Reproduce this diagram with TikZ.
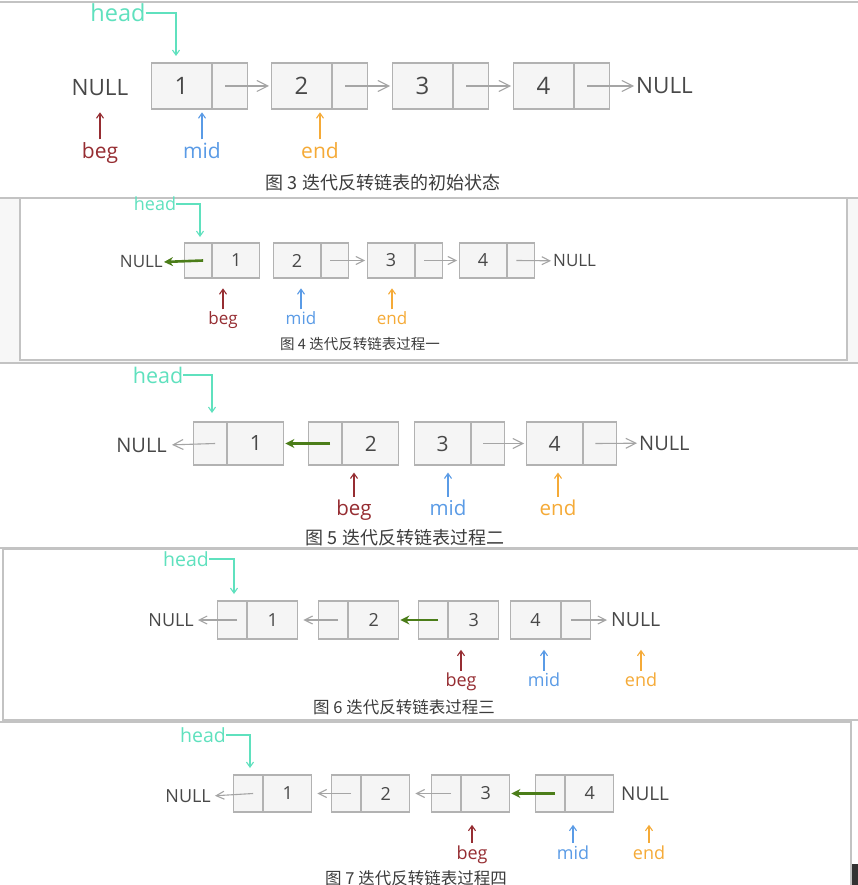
\documentclass[tikz,border=0pt]{standalone}
\usepackage{fontspec}
\setmainfont{Open Sans}
\newfontfamily\cjk{Noto Sans CJK SC}
\usetikzlibrary{arrows.meta,positioning}
\definecolor{boxfill}{RGB}{245,245,245}
\definecolor{boxline}{RGB}{178,178,178}
\definecolor{nxtgray}{RGB}{165,165,165}
\definecolor{txtgray}{RGB}{72,72,72}
\definecolor{captxt}{RGB}{60,60,60}
\definecolor{headc}{RGB}{95,225,190}
\definecolor{begc}{RGB}{150,45,50}
\definecolor{midc}{RGB}{90,155,230}
\definecolor{endc}{RGB}{245,170,55}
\definecolor{revc}{RGB}{75,125,25}
\definecolor{panelline}{RGB}{195,195,195}
\tikzset{
  cell/.style 2 args={draw=boxline, fill=boxfill, line width=1.2pt, inner sep=0pt,
    minimum width=#1, minimum height=#2, anchor=west},
  txt/.style={font=\fontsize{#1}{#1}\selectfont, text=txtgray, inner sep=0pt},
  lab/.style 2 args={font=\fontsize{#1}{#1}\selectfont, text=#2, inner sep=0pt,
    text height={0.76*#1pt}, text depth={0.24*#1pt}},
  cap/.style={font=\cjk\fontsize{#1}{#1}\selectfont, text=captxt, inner sep=0pt},
  nxt/.style={draw=nxtgray, line width=1.1pt, shorten >=2pt,
    -{Straight Barb[length=#1pt,width=#1pt]}},
  rev/.style={draw=revc, line width=2.6pt, shorten >=1pt, -{Stealth[length=9pt,width=9pt]}},
  tag/.style={draw=#1, line width=1.1pt, -{Straight Barb[length=5pt,width=7pt]}},
  panel/.style={fill=white, draw=panelline, line width=2pt}
}
\begin{document}
\begin{tikzpicture}[x=1pt,y=-1pt]
\useasboundingbox (0,0) rectangle (858,885);
\fill[white] (0,0) rectangle (858,885);
\fill[black!3] (0,198) rectangle (858,362);
\draw[panel] (-3,722) rectangle (851,890);
\fill[black!80] (852,864) rectangle (860,888);
\draw[panel] (3,549) rectangle (862,720);
\draw[panel] (-3,363) rectangle (862,548);
\draw[panel] (20,198) rectangle (847,360);
\draw[panel] (-3,2) rectangle (862,198);

% 图 3
\node[txt=23.5, text=headc] (h1) at (118,13) {head};
\node[txt=22.5] (z1) at (100,88) {NULL};
\foreach \i/\x in {1/151,2/271,3/392,4/513} {
  \node[cell={60pt}{46pt}, txt=24] (a\i) at (\x,86) {\i};
  \node[cell={35pt}{46pt}] (pa\i) at (a\i.east) {};
}
\node[txt=22.5, anchor=west] (y1) at (636,86) {NULL};
\draw[nxt=11] ([xshift=-5pt]pa1.center) -- (a2);
\draw[nxt=11] ([xshift=-5pt]pa2.center) -- (a3);
\draw[nxt=11] ([xshift=-5pt]pa3.center) -- (a4);
\draw[nxt=11] ([xshift=-5pt]pa4.center) -- (y1);
\coordinate (h1t) at (176,56);
\draw[tag=headc] (h1.east) -| (h1t);
\foreach \t/\c/\x in {beg/begc/100, mid/midc/202, end/endc/320} {
  \node[lab={21}{\c}] (\t1) at (\x,153) {\t};
  \draw[tag=\c] ([yshift=3pt]\t1.north) -- ++(0,-27);
}
\node[cap=18] (c1) at (383,183) {图 3 迭代反转链表的初始状态};

% 图 4
\node[txt=18, text=headc] (h2) at (155,204) {head};
\node[txt=17, anchor=east] (z2) at (163,262) {NULL};
\node[cell={27pt}{35pt}] (pb1) at (184,260.5) {};
\node[cell={47pt}{35pt}, txt=18] (b1) at (pb1.east) {1};
\foreach \i/\x in {2/273,3/367,4/459} {
  \node[cell={47pt}{35pt}, txt=18] (b\i) at (\x,260.5) {\i};
  \node[cell={27pt}{35pt}] (pb\i) at (b\i.east) {};
}
\node[txt=17, anchor=west] (y2) at (553,261) {NULL};
\draw[rev] ([xshift=5pt]pb1.center) -- (z2.east);
\draw[nxt=8] ([xshift=-5pt]pb2.center) -- (b3);
\draw[nxt=8] ([xshift=-5pt]pb3.center) -- (b4);
\draw[nxt=8] ([xshift=-5pt]pb4.center) -- (y2);
\coordinate (h2t) at (200,237);
\draw[tag=headc] (h2.east) -| (h2t);
\foreach \t/\c/\x in {beg/begc/223, mid/midc/301, end/endc/392} {
  \node[lab={17}{\c}] (\t2) at (\x,320) {\t};
  \draw[tag=\c] ([yshift=2pt]\t2.north) -- ++(0,-21);
}
\node[cap=14.5] (c2) at (360,344) {图 4 迭代反转链表过程一};

% 图 5
\node[txt=21.5, text=headc] (h3) at (158,375) {head};
\node[txt=20, anchor=east] (z3) at (167,445) {NULL};
\foreach \i/\x in {1/193,2/308} {
  \node[cell={33pt}{43pt}] (pc\i) at (\x,443.5) {};
  \node[cell={56pt}{43pt}, txt=21] (c\i) at (pc\i.east) {\i};
}
\foreach \i/\x in {3/414,4/526} {
  \node[cell={56pt}{43pt}, txt=21] (c\i) at (\x,443.5) {\i};
  \node[cell={33pt}{43pt}] (pc\i) at (c\i.east) {};
}
\node[txt=20, anchor=west] (y3) at (639,443) {NULL};
\draw[nxt=10, shorten >=5pt] ([xshift=5pt]pc1.center) -- (z3.east);
\draw[rev] ([xshift=5pt]pc2.center) -- (c1.east);
\draw[nxt=10] ([xshift=-5pt]pc3.center) -- (c4);
\draw[nxt=10] ([xshift=-5pt]pc4.center) -- (y3);
\coordinate (h3t) at (212,413);
\draw[tag=headc] (h3.east) -| (h3t);
\foreach \t/\c/\x in {beg/begc/354, mid/midc/448, end/endc/558} {
  \node[lab={20.5}{\c}] (\t3) at (\x,510) {\t};
  \draw[tag=\c] ([yshift=3pt]\t3.north) -- ++(0,-24);
}
\node[cap=18] (c5) at (405,538) {图 5 迭代反转链表过程二};

% 图 6
\node[txt=19.5, text=headc] (h4) at (186,559) {head};
\node[txt=18, anchor=east] (z4) at (194,620) {NULL};
\foreach \i/\x in {1/217,2/318,3/418} {
  \node[cell={29pt}{38pt}] (pd\i) at (\x,620) {};
  \node[cell={50pt}{38pt}, txt=18] (d\i) at (pd\i.east) {\i};
}
\node[cell={50pt}{38pt}, txt=18] (d4) at (510,620) {4};
\node[cell={29pt}{38pt}] (pd4) at (d4.east) {};
\node[txt=19.5, anchor=west] (y4) at (611,620) {NULL};
\draw[nxt=8, shorten >=4pt] ([xshift=5pt]pd1.center) -- (z4.east);
\draw[nxt=8, shorten >=5pt] ([xshift=5pt]pd2.center) -- (d1.east);
\draw[rev] ([xshift=5pt]pd3.center) -- (d2.east);
\draw[nxt=8, shorten >=4pt] ([xshift=-5pt]pd4.center) -- (y4);
\coordinate (h4t) at (234,594);
\draw[tag=headc] (h4.east) -| (h4t);
\foreach \t/\c/\x in {beg/begc/461, mid/midc/544, end/endc/641} {
  \node[lab={18}{\c}] (\t4) at (\x,682) {\t};
  \draw[tag=\c] ([yshift=2pt]\t4.north) -- ++(0,-21);
}
\node[cap=16.5] (c6) at (404,707) {图 6 迭代反转链表过程三};

% 图 7
\node[txt=19.5, text=headc] (h5) at (203,735) {head};
\node[txt=18, anchor=east] (z5) at (211,796) {NULL};
\foreach \i/\x in {1/233,2/331,3/431,4/535} {
  \node[cell={29pt}{37pt}] (pe\i) at (\x,793.5) {};
  \node[cell={48pt}{37pt}, txt=18] (e\i) at (pe\i.east) {\i};
}
\node[txt=19, anchor=west] (y5) at (621,794) {NULL};
\draw[nxt=8, shorten >=4pt] ([xshift=5pt]pe1.center) -- (z5.east);
\draw[nxt=8, shorten >=5pt] ([xshift=5pt]pe2.center) -- (e1.east);
\draw[nxt=8, shorten >=5pt] ([xshift=5pt]pe3.center) -- (e2.east);
\draw[rev] ([xshift=5pt]pe4.center) -- (e3.east);
\coordinate (h5t) at (250,768);
\draw[tag=headc] (h5.east) -| (h5t);
\foreach \t/\c/\x in {beg/begc/472, mid/midc/573, end/endc/649} {
  \node[lab={18}{\c}] (\t5) at (\x,855) {\t};
  \draw[tag=\c] ([yshift=3pt]\t5.north) -- ++(0,-18);
}
\node[cap=16.5] (c7) at (416,878) {图 7 迭代反转链表过程四};
\end{tikzpicture}
\end{document}
